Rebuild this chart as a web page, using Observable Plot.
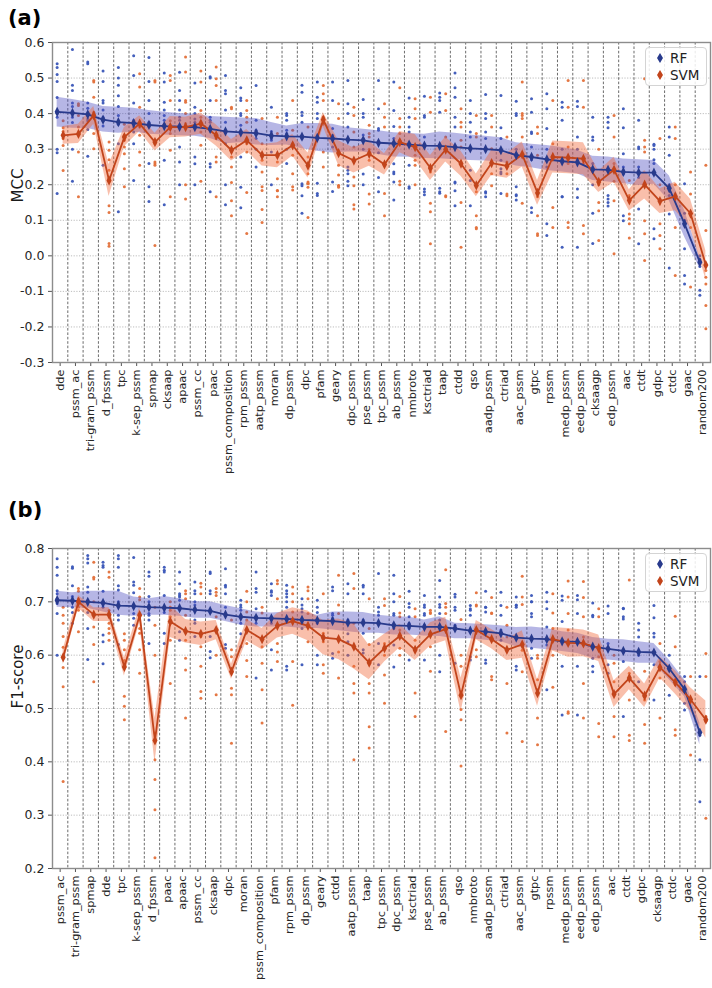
<!DOCTYPE html>
<html><head><meta charset="utf-8">
<script src="https://cdn.jsdelivr.net/npm/d3@7"></script>
<script src="https://cdn.jsdelivr.net/npm/@observablehq/plot@0.6"></script>
<style>
body{margin:0;background:#fff;font-family:"DejaVu Sans",sans-serif;}
#page{position:relative;width:712px;height:988px;overflow:hidden;}
.pl{position:absolute;font-weight:bold;font-size:21px;color:#000;}
.leg{position:absolute;left:645px;width:60px;height:37px;border:1px solid #d4d4d4;border-radius:4px;background:rgba(255,255,255,0.85);font-size:13.5px;color:#222;}
.leg div{position:absolute;left:10px;display:flex;align-items:center;gap:6px;height:16px;}
.chart{position:absolute;left:0;}
</style></head>
<body><div id="page">
<div class="pl" style="left:8px;top:6px">(a)</div>
<div class="pl" style="left:8px;top:498px">(b)</div>
<div id="ca" class="chart" style="top:0px"></div>
<div id="cb" class="chart" style="top:490px"></div>
<div class="leg" style="top:47px"><div style="top:2px"><svg width="8" height="12"><path d="M4 1L7 6L4 11L1 6Z" fill="#283a8c"/></svg><span>RF</span></div><div style="top:19px"><svg width="8" height="12"><path d="M4 1L7 6L4 11L1 6Z" fill="#c2441b"/></svg><span>SVM</span></div></div>
<div class="leg" style="top:553px"><div style="top:2px"><svg width="8" height="12"><path d="M4 1L7 6L4 11L1 6Z" fill="#283a8c"/></svg><span>RF</span></div><div style="top:19px"><svg width="8" height="12"><path d="M4 1L7 6L4 11L1 6Z" fill="#c2441b"/></svg><span>SVM</span></div></div>
</div>
<script>
// ---------- Panel (a): MCC ----------
const catsA = ["dde","pssm_ac","tri-gram_pssm","d_fpssm","tpc","k-sep_pssm","spmap","cksaap","apaac","pssm_cc","paac","pssm_composition","rpm_pssm","aatp_pssm","moran","dp_pssm","dpc","pfam","geary","dpc_pssm","pse_pssm","tpc_pssm","ab_pssm","nmbroto","ksctriad","taap","ctdd","qso","aadp_pssm","ctriad","aac_pssm","gtpc","rpssm","medp_pssm","eedp_pssm","cksaagp","edp_pssm","aac","ctdt","gdpc","ctdc","gaac","random200"];
const rfMeanA = [0.405,0.402,0.398,0.383,0.376,0.373,0.368,0.365,0.363,0.362,0.357,0.350,0.347,0.345,0.338,0.336,0.335,0.332,0.330,0.327,0.325,0.318,0.316,0.313,0.310,0.309,0.306,0.302,0.300,0.297,0.283,0.278,0.271,0.266,0.263,0.243,0.242,0.236,0.234,0.234,0.19,0.09,-0.018];
const rfLoA = [0.362,0.359,0.358,0.348,0.345,0.348,0.342,0.340,0.338,0.336,0.330,0.315,0.318,0.312,0.310,0.312,0.301,0.294,0.289,0.292,0.292,0.285,0.278,0.277,0.274,0.273,0.270,0.268,0.267,0.263,0.253,0.248,0.240,0.236,0.231,0.212,0.208,0.203,0.198,0.201,0.155,0.053,-0.035];
const rfHiA = [0.446,0.440,0.432,0.420,0.418,0.415,0.409,0.404,0.400,0.398,0.392,0.390,0.388,0.386,0.375,0.365,0.372,0.372,0.370,0.360,0.356,0.352,0.346,0.344,0.342,0.348,0.345,0.340,0.336,0.332,0.318,0.314,0.310,0.305,0.297,0.280,0.278,0.272,0.270,0.268,0.225,0.128,-0.003];
const svmMeanA = [0.339,0.343,0.395,0.212,0.334,0.372,0.320,0.362,0.362,0.372,0.339,0.297,0.325,0.283,0.283,0.311,0.254,0.383,0.289,0.268,0.287,0.257,0.320,0.306,0.247,0.299,0.259,0.198,0.261,0.253,0.285,0.177,0.278,0.276,0.273,0.208,0.242,0.156,0.200,0.154,0.167,0.119,-0.026];
const svmErrA = [0.025,0.027,0.025,0.045,0.027,0.022,0.025,0.03,0.028,0.03,0.03,0.03,0.03,0.03,0.035,0.03,0.035,0.02,0.035,0.035,0.035,0.03,0.03,0.035,0.035,0.035,0.035,0.032,0.035,0.035,0.035,0.035,0.045,0.045,0.045,0.03,0.035,0.03,0.04,0.035,0.04,0.04,0.04];
const rfPtsA = [
[0.54,0.53,0.51,0.49,0.445,0.40,0.39,0.30,0.29,0.175],[0.58,0.48,0.465,0.43,0.42,0.405,0.39,0.375,0.30,0.21],[0.545,0.54,0.43,0.415,0.395,0.385,0.38,0.355,0.28],[0.52,0.49,0.437,0.43,0.41,0.39,0.38,0.365,0.255],[0.53,0.50,0.48,0.45,0.42,0.395,0.37,0.315,0.124],
[0.563,0.507,0.43,0.381,0.372,0.362,0.348,0.315,0.212],[0.558,0.49,0.437,0.40,0.376,0.364,0.26,0.194,0.153],[0.514,0.489,0.432,0.41,0.395,0.381,0.37,0.269,0.144],[0.516,0.465,0.437,0.41,0.39,0.381,0.306,0.264,0.2],[0.486,0.418,0.40,0.385,0.376,0.362,0.278,0.259,0.2],
[0.504,0.50,0.437,0.39,0.381,0.376,0.259,0.25,0.18],[0.507,0.465,0.456,0.41,0.376,0.348,0.315,0.2,0.144],[0.473,0.444,0.437,0.40,0.395,0.367,0.278,0.193,0.135],[0.479,0.381,0.353,0.344,0.33,0.30,0.25],[0.418,0.35,0.339,0.33,0.325,0.292,0.2],
[0.40,0.395,0.381,0.353,0.344,0.30,0.26],[0.48,0.46,0.404,0.395,0.376,0.33,0.203,0.197,0.169,0.12],[0.489,0.446,0.432,0.40,0.386,0.204,0.175,0.17],[0.489,0.437,0.358,0.339,0.306,0.208,0.181],[0.493,0.428,0.40,0.362,0.25,0.241,0.231,0.21,0.197],
[0.44,0.40,0.39,0.34,0.33,0.30,0.23,0.20],[0.493,0.414,0.358,0.353,0.32,0.29,0.22,0.18],[0.489,0.409,0.364,0.33,0.259,0.236,0.231,0.208,0.157],[0.444,0.39,0.362,0.348,0.31,0.255,0.194,0.19],[0.449,0.395,0.39,0.334,0.31,0.188,0.18,0.172],
[0.458,0.446,0.437,0.404,0.306,0.19,0.18,0.176],[0.514,0.473,0.446,0.39,0.362,0.208,0.205,0.183,0.141],[0.437,0.40,0.376,0.348,0.334,0.241,0.212,0.141],[0.454,0.40,0.386,0.348,0.33,0.18,0.177,0.166],[0.451,0.36,0.33,0.269,0.245,0.236,0.231,0.175],
[0.435,0.40,0.395,0.30,0.194,0.172,0.169,0.157],[0.442,0.404,0.348,0.344,0.306,0.27,0.135,0.122],[0.456,0.414,0.358,0.30,0.27,0.25,0.09,0.057],[0.432,0.418,0.381,0.30,0.27,0.166,0.166,0.024],[0.435,0.42,0.334,0.30,0.27,0.188,0.164,0.024],
[0.39,0.334,0.325,0.26,0.24,0.2,0.12,0.035],[0.39,0.376,0.36,0.24,0.17,0.16,0.15,0.14],[0.414,0.36,0.287,0.25,0.23,0.113,0.099],[0.381,0.306,0.301,0.25,0.22,0.132,0.034],[0.314,0.31,0.3,0.27,0.26,0.23,0.076,0.048],
[0.362,0.334,0.283,0.2,0.17,0.118,-0.034],[0.203,0.12,0.1,0.02,-0.055,-0.079],[0.0,-0.01,-0.03,-0.097,-0.111]];
const svmPtsA = [
[0.38,0.36,0.35,0.34,0.33,0.31,0.24],[0.428,0.423,0.395,0.362,0.344,0.292,0.166],[0.493,0.489,0.446,0.404,0.39,0.344,0.301],[0.32,0.297,0.27,0.241,0.21,0.141,0.122,0.035,0.027],[0.37,0.339,0.325,0.306,0.287,0.245,0.194],
[0.512,0.475,0.418,0.362,0.339,0.292,0.255],[0.493,0.489,0.315,0.264,0.259,0.255,0.029],[0.507,0.493,0.437,0.38,0.344,0.297,0.166],[0.559,0.517,0.437,0.432,0.40,0.372,0.2,0.16],[0.52,0.489,0.409,0.39,0.348,0.311,0.21],
[0.531,0.498,0.479,0.437,0.33,0.278,0.264,0.166],[0.418,0.414,0.297,0.278,0.25,0.206,0.155,0.113],[0.437,0.409,0.39,0.376,0.325,0.315,0.292,0.178,0.063],[0.386,0.315,0.269,0.236,0.194,0.184,0.13,0.094],[0.39,0.344,0.264,0.217,0.184,0.183,0.166],
[0.437,0.353,0.315,0.283,0.231,0.194,0.185],[0.362,0.278,0.259,0.231,0.208,0.204,0.203,0.193,0.108],[0.479,0.456,0.437,0.39,0.37,0.292,0.25],[0.428,0.386,0.255,0.227,0.198,0.197,0.193],[0.418,0.395,0.348,0.306,0.222,0.197,0.144,0.132],
[0.367,0.344,0.334,0.30,0.269,0.174,0.146],[0.428,0.39,0.362,0.26,0.175,0.113],[0.473,0.386,0.362,0.344,0.325,0.21,0.2],[0.442,0.414,0.386,0.283,0.269,0.255,0.2],[0.446,0.404,0.25,0.236,0.148,0.124,0.034],
[0.456,0.409,0.334,0.306,0.30,0.169,0.166],[0.414,0.376,0.362,0.325,0.306,0.15,0.024],[0.395,0.344,0.334,0.18,0.113,0.08,0.076],[0.395,0.362,0.301,0.26,0.231,0.197],[0.334,0.264,0.25,0.231,0.174,0.169],
[0.489,0.40,0.395,0.386,0.334,0.148],[0.362,0.344,0.283,0.166,0.113,0.062,0.057],[0.437,0.315,0.28,0.136,0.08],[0.493,0.418,0.306,0.26,0.094,0.08],[0.493,0.418,0.272,0.26,0.085,0.062],
[0.30,0.212,0.2,0.15,0.127,0.043],[0.395,0.334,0.26,0.21,0.155,0.006],[0.212,0.17,0.118,0.104,0.09,0.05],[0.498,0.325,0.306,0.292,0.099,0.062,-0.013],[0.33,0.2,0.09,0.057,0.02],
[0.362,0.33,0.2,0.08,-0.055],[0.236,0.174,0.08,-0.088],[0.255,0.071,-0.041,-0.06,-0.079,-0.14,-0.205]];
const ticksA = [-0.3,-0.2,-0.1,0.0,0.1,0.2,0.3,0.4,0.5,0.6];

// ---------- Panel (b): F1-score ----------
const catsB = ["pssm_ac","tri-gram_pssm","spmap","dde","tpc","k-sep_pssm","d_fpssm","paac","apaac","pssm_cc","cksaap","dpc","moran","pssm_composition","pfam","rpm_pssm","dp_pssm","geary","ctdd","aatp_pssm","taap","tpc_pssm","dpc_pssm","ksctriad","pse_pssm","ab_pssm","qso","nmbroto","aadp_pssm","ctriad","aac_pssm","gtpc","rpssm","medp_pssm","eedp_pssm","edp_pssm","aac","ctdt","gdpc","cksaagp","ctdc","gaac","random200"];
const rfMeanB = [0.703,0.702,0.700,0.698,0.693,0.692,0.690,0.689,0.688,0.685,0.683,0.676,0.672,0.670,0.669,0.668,0.666,0.665,0.664,0.661,0.661,0.660,0.656,0.655,0.653,0.653,0.650,0.646,0.644,0.641,0.633,0.631,0.630,0.626,0.625,0.616,0.612,0.608,0.606,0.605,0.575,0.536,0.455];
const rfLoB = [0.69,0.689,0.688,0.681,0.675,0.673,0.675,0.675,0.673,0.669,0.669,0.663,0.656,0.653,0.653,0.653,0.65,0.65,0.647,0.644,0.641,0.641,0.638,0.638,0.636,0.635,0.631,0.631,0.628,0.625,0.616,0.613,0.61,0.607,0.603,0.594,0.591,0.588,0.585,0.585,0.554,0.522,0.432];
const rfHiB = [0.72,0.717,0.72,0.72,0.72,0.709,0.706,0.71,0.706,0.70,0.70,0.693,0.687,0.681,0.679,0.681,0.681,0.675,0.681,0.681,0.68,0.675,0.672,0.671,0.666,0.672,0.66,0.659,0.657,0.655,0.652,0.653,0.65,0.644,0.641,0.633,0.63,0.629,0.625,0.622,0.591,0.554,0.473];
const svmMeanB = [0.596,0.700,0.676,0.676,0.578,0.675,0.440,0.663,0.645,0.640,0.647,0.569,0.647,0.630,0.655,0.664,0.655,0.633,0.630,0.616,0.586,0.613,0.636,0.610,0.639,0.649,0.525,0.647,0.630,0.610,0.620,0.529,0.630,0.623,0.622,0.613,0.527,0.557,0.524,0.577,0.549,0.517,0.479];
const svmErrB = [0.014,0.012,0.013,0.013,0.017,0.015,0.042,0.03,0.022,0.022,0.018,0.014,0.02,0.02,0.023,0.025,0.028,0.032,0.038,0.042,0.032,0.026,0.022,0.02,0.022,0.022,0.032,0.018,0.018,0.02,0.026,0.025,0.022,0.027,0.025,0.025,0.025,0.022,0.022,0.02,0.022,0.022,0.035];
const rfPtsB = [
[0.781,0.765,0.75,0.721,0.715,0.706,0.70,0.697,0.678,0.60],[0.766,0.763,0.73,0.71,0.70,0.69,0.68,0.66],[0.787,0.781,0.773,0.728,0.718,0.70,0.68,0.65,0.592],[0.774,0.768,0.765,0.72,0.70,0.69,0.638,0.625,0.584],[0.787,0.781,0.765,0.73,0.722,0.70,0.675,0.666,0.62],
[0.783,0.737,0.731,0.717,0.69,0.678,0.669,0.656],[0.756,0.748,0.71,0.70,0.678,0.675,0.666,0.622],[0.765,0.759,0.756,0.712,0.69,0.68,0.641,0.622],[0.756,0.734,0.715,0.712,0.709,0.703,0.644,0.628],[0.737,0.721,0.715,0.70,0.694,0.666,0.66,0.635],
[0.756,0.753,0.721,0.715,0.68,0.635,0.607,0.595],[0.762,0.731,0.728,0.715,0.69,0.62,0.613],[0.703,0.694,0.69,0.684,0.66,0.64,0.616],[0.756,0.725,0.718,0.687,0.672,0.66,0.557],[0.734,0.721,0.718,0.712,0.66,0.61,0.572],
[0.731,0.721,0.715,0.709,0.70,0.69,0.579,0.572],[0.706,0.694,0.687,0.681,0.66,0.65,0.582],[0.703,0.69,0.68,0.66,0.60,0.582],[0.728,0.721,0.678,0.675,0.669,0.603,0.594],[0.734,0.715,0.666,0.64,0.625,0.60],
[0.731,0.728,0.715,0.666,0.641,0.61,0.604],[0.753,0.69,0.681,0.675,0.622,0.582],[0.75,0.715,0.70,0.678,0.675,0.65,0.619,0.578],[0.72,0.697,0.69,0.672,0.66,0.65,0.591],[0.712,0.694,0.69,0.678,0.675,0.656,0.591],
[0.74,0.709,0.695,0.69,0.678,0.666,0.60,0.569],[0.714,0.709,0.69,0.684,0.656,0.585],[0.693,0.687,0.684,0.675,0.597,0.591],[0.72,0.69,0.69,0.681,0.591,0.585],[0.718,0.693,0.675,0.647,0.641,0.628],
[0.709,0.694,0.693,0.69,0.579,0.572],[0.712,0.70,0.70,0.678,0.672,0.613,0.594],[0.718,0.70,0.687,0.653,0.619,0.535],[0.711,0.703,0.663,0.579,0.488],[0.712,0.704,0.678,0.579,0.488],
[0.698,0.675,0.672,0.594,0.579,0.569],[0.692,0.678,0.622,0.582,0.566],[0.688,0.687,0.672,0.668,0.588,0.485],[0.66,0.647,0.634,0.60,0.55],[0.693,0.67,0.641,0.634,0.582,0.516],
[0.60,0.572,0.525],[0.56,0.55,0.51,0.497],[0.56,0.45,0.404,0.325]];
const svmPtsB = [
[0.69,0.675,0.66,0.635,0.615,0.577,0.541,0.363],[0.725,0.72,0.706,0.70,0.69,0.684,0.644],[0.774,0.746,0.743,0.70,0.678,0.653,0.62,0.55],[0.756,0.746,0.684,0.66,0.65,0.641,0.628],[0.64,0.628,0.61,0.59,0.579,0.523,0.504,0.479],
[0.725,0.709,0.704,0.666,0.65,0.641,0.61,0.566],[0.69,0.656,0.60,0.454,0.404,0.367,0.31,0.22],[0.70,0.69,0.684,0.672,0.66,0.628,0.547],[0.721,0.715,0.706,0.675,0.628,0.594,0.572,0.482],[0.735,0.728,0.715,0.635,0.616,0.579,0.532,0.519],
[0.725,0.718,0.712,0.672,0.60,0.526],[0.666,0.61,0.597,0.538,0.526,0.435],[0.72,0.70,0.681,0.666,0.622,0.59,0.56],[0.69,0.679,0.616,0.585,0.535,0.473],[0.74,0.734,0.706,0.622,0.606,0.588],
[0.728,0.715,0.70,0.681,0.588,0.506],[0.728,0.721,0.706,0.678,0.653,0.625],[0.715,0.641,0.625,0.582,0.566],[0.75,0.694,0.678,0.606,0.557],[0.753,0.725,0.66,0.579,0.547,0.529,0.404],
[0.706,0.65,0.62,0.547,0.529,0.466,0.426],[0.706,0.693,0.622,0.60,0.563,0.51],[0.71,0.679,0.672,0.647,0.613,0.60],[0.687,0.672,0.628,0.61,0.529,0.485],[0.684,0.68,0.678,0.616,0.57],
[0.76,0.697,0.69,0.678,0.65,0.457],[0.667,0.60,0.579,0.498,0.479,0.392],[0.717,0.694,0.692,0.61,0.597],[0.708,0.679,0.678,0.56,0.554],[0.69,0.656,0.634,0.547,0.454],
[0.748,0.709,0.695,0.609,0.569,0.438],[0.60,0.594,0.554,0.482,0.432],[0.715,0.679,0.65,0.60,0.54],[0.739,0.709,0.678,0.647,0.494,0.491],[0.738,0.708,0.672,0.634,0.547,0.482],
[0.687,0.672,0.597,0.472,0.447],[0.60,0.585,0.55,0.485,0.447],[0.741,0.566,0.516,0.45,0.44],[0.57,0.516,0.47,0.435],[0.622,0.588,0.557,0.482],
[0.673,0.616,0.545,0.46,0.45],[0.56,0.516,0.413],[0.603,0.56,0.485,0.476,0.294]];
const ticksB = [0.2,0.3,0.4,0.5,0.6,0.7,0.8];

// ---------- drawing ----------
const thinDiamond = {draw(ctx, size){const h = Math.sqrt(size)*0.85, w = h*0.5; ctx.moveTo(0,-h); ctx.lineTo(w,0); ctx.lineTo(0,h); ctx.lineTo(-w,0); ctx.closePath();}};
const RF_LINE = "#283a8c", SVM_LINE = "#c2441b", RF_DOT = "#3a56b8", SVM_DOT = "#e3703a";

function panel(o){
  const n = o.cats.length;
  const idx = o.cats.map((_, i) => i);
  const rfBand = idx.map(i => ({i, lo: o.rfLo[i], hi: o.rfHi[i]}));
  const svmBand = idx.map(i => ({i, lo: o.svmMean[i] - o.svmErr[i], hi: o.svmMean[i] + o.svmErr[i]}));
  const rfLine = idx.map(i => ({i, v: o.rfMean[i]}));
  const svmLine = idx.map(i => ({i, v: o.svmMean[i]}));
  const rfDots = o.rfPts.flatMap((a, i) => a.map(v => ({i, v})));
  const svmDots = o.svmPts.flatMap((a, i) => a.map(v => ({i, v})));
  return Plot.plot({
    width: 712, height: o.height,
    marginLeft: 52, marginRight: 2, marginTop: o.marginTop, marginBottom: o.marginBottom,
    style: {fontFamily: "DejaVu Sans", fontSize: "12.5px", color: "#262626", background: "transparent", overflow: "visible"},
    x: {domain: [-0.5, n - 0.5]},
    y: {domain: o.yDomain},
    marks: [
      Plot.gridY(o.ticks, {stroke: "#b5b5b5", strokeOpacity: 1, strokeDasharray: "1.2,1.5", strokeWidth: 0.9}),
      Plot.ruleX(idx.slice(0, -1), {x: d => d + 0.5, stroke: "#3a3a3a", strokeDasharray: "2.6,1.8", strokeWidth: 0.75}),
      Plot.dot(rfDots, {x: "i", y: "v", dx: -3, r: 1.5, fill: RF_DOT, fillOpacity: 0.95}),
      Plot.dot(svmDots, {x: "i", y: "v", dx: 3, r: 1.5, fill: SVM_DOT, fillOpacity: 0.95}),
      Plot.areaY(rfBand, {x: "i", y1: "lo", y2: "hi", fill: "#4848bd", fillOpacity: 0.4, dx: -3}),
      Plot.areaY(svmBand, {x: "i", y1: "lo", y2: "hi", fill: "#f06a3c", fillOpacity: 0.43, dx: 3}),
      Plot.lineY(rfLine, {x: "i", y: "v", dx: -3, stroke: RF_LINE, strokeWidth: 1.8}),
      Plot.lineY(svmLine, {x: "i", y: "v", dx: 3, stroke: SVM_LINE, strokeWidth: 1.8}),
      Plot.dot(rfLine, {x: "i", y: "v", dx: -3, r: 3.4, symbol: thinDiamond, fill: RF_LINE}),
      Plot.dot(svmLine, {x: "i", y: "v", dx: 3, r: 3.4, symbol: thinDiamond, fill: SVM_LINE}),
      Plot.axisX(idx, {tickRotate: -90, tickFormat: i => o.cats[i], tickSize: 4, tickPadding: 3, label: null, stroke: "#555", fontSize: 11.3}),
      Plot.axisY(o.ticks, {tickFormat: d => d.toFixed(1), tickSize: 4, tickPadding: 4, label: null, stroke: "#555"}),
      Plot.text([o.ylabel], {frameAnchor: "left", dx: -34, rotate: -90, fontSize: 15, fill: "#1a1a1a"}),
      Plot.frame({stroke: "#8c8c8c", strokeWidth: 1.4})
    ]
  });
}

document.getElementById("ca").append(panel({
  cats: catsA, rfMean: rfMeanA, rfLo: rfLoA, rfHi: rfHiA, svmMean: svmMeanA, svmErr: svmErrA,
  rfPts: rfPtsA, svmPts: svmPtsA, ticks: ticksA, yDomain: [-0.3, 0.6], ylabel: "MCC",
  height: 490, marginTop: 42, marginBottom: 128
}));
document.getElementById("cb").append(panel({
  cats: catsB, rfMean: rfMeanB, rfLo: rfLoB, rfHi: rfHiB, svmMean: svmMeanB, svmErr: svmErrB,
  rfPts: rfPtsB, svmPts: svmPtsB, ticks: ticksB, yDomain: [0.2, 0.8], ylabel: "F1-score",
  height: 498, marginTop: 58, marginBottom: 120
}));
</script>
</body></html>
